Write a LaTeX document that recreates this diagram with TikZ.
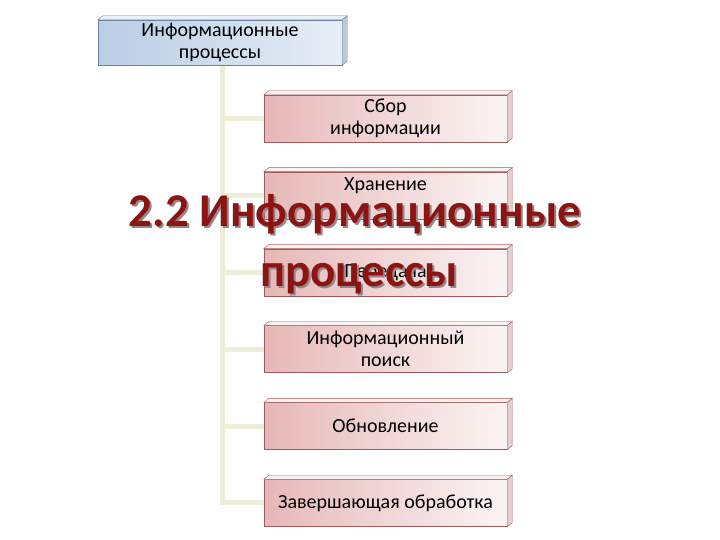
\documentclass[tikz,border=0pt]{standalone}
\usepackage{fontspec}
\setmainfont{Carlito}
\usepackage{xcolor}
\usetikzlibrary{positioning}

\definecolor{rootfill}{HTML}{B9CDE5}
\definecolor{rootedge}{HTML}{6E84A3}
\definecolor{procfill}{HTML}{E6B8B7}
\definecolor{procedge}{HTML}{A35A5A}
\definecolor{linkcol}{HTML}{EDEDD9}
\definecolor{titlered}{HTML}{8E1414}

\pgfdeclarelayer{background}
\pgfsetlayers{background,main}

\begin{document}
\begin{tikzpicture}[
    font=\fontsize{20}{22}\selectfont,
    node distance=29.5pt
]
\tikzset{
    rootbox/.style = {rectangle, draw=rootedge, align=center, left color=rootfill,
        right color=rootfill!35, minimum width=244pt, minimum height=45pt, inner sep=1pt},
    procbox/.style = {rectangle, draw=procedge, align=center, left color=procfill,
        right color=procfill!15, minimum width=243pt, minimum height=47pt, inner sep=1pt},
    rootface/.style = {draw=rootedge, fill=rootfill!30},
    rootside/.style = {draw=rootedge, fill=rootedge!45},
    procface/.style = {draw=procedge, fill=procfill!20},
    procside/.style = {draw=procedge, fill=procedge!30},
    linkline/.style = {draw=linkcol, line width=5pt},
    titletext/.style = {font=\fontsize{47}{60}\selectfont\bfseries, text=titlered, anchor=base}
}
\useasboundingbox (0,0) rectangle (720pt,540pt);

\node[rootbox] (root) at (220pt,497.5pt) {Информационные\\процессы};
\node[procbox] (collect) at (385.5pt,421.5pt) {Сбор\\информации};
\node[procbox, below=of collect] (store) {Хранение\\\mbox{}};
\node[procbox, below=of store] (transfer) {Передача};
\node[procbox, below=of transfer] (search) {Информационный\\поиск};
\node[procbox, below=of search] (update) {Обновление};
\node[procbox, below=of update] (finish) {Завершающая обработка};

% connectors behind the boxes
\begin{pgfonlayer}{background}
\foreach \n in {collect,store,transfer,search,update,finish}
  \draw[linkline] ([xshift=2pt]root.south) |- (\n.west);
\end{pgfonlayer}

% 3D faces
\foreach \n in {collect,store,transfer,search,update,finish}{
  \path[procface] (\n.north west) -- ++(5pt,4pt) -- ([shift={(5pt,4pt)}]\n.north east) -- (\n.north east) -- cycle;
  \path[procside] (\n.north east) -- ++(5pt,4pt) -- ([shift={(5pt,4pt)}]\n.south east) -- (\n.south east) -- cycle;
}
\path[rootface] (root.north west) -- ++(5pt,4pt) -- ([shift={(5pt,4pt)}]root.north east) -- (root.north east) -- cycle;
\path[rootside] (root.north east) -- ++(5pt,4pt) -- ([shift={(5pt,4pt)}]root.south east) -- (root.south east) -- cycle;

% title with shadow
\node[titletext, text=black!45] (shadowA) at (357pt,311pt) {2.2 Информационные};
\node[titletext, text=black!45] (shadowB) at (361pt,251pt) {процессы};
\node[titletext] (titleA) at (355pt,313pt) {2.2 Информационные};
\node[titletext] (titleB) at (359pt,253pt) {процессы};
\end{tikzpicture}
\end{document}
